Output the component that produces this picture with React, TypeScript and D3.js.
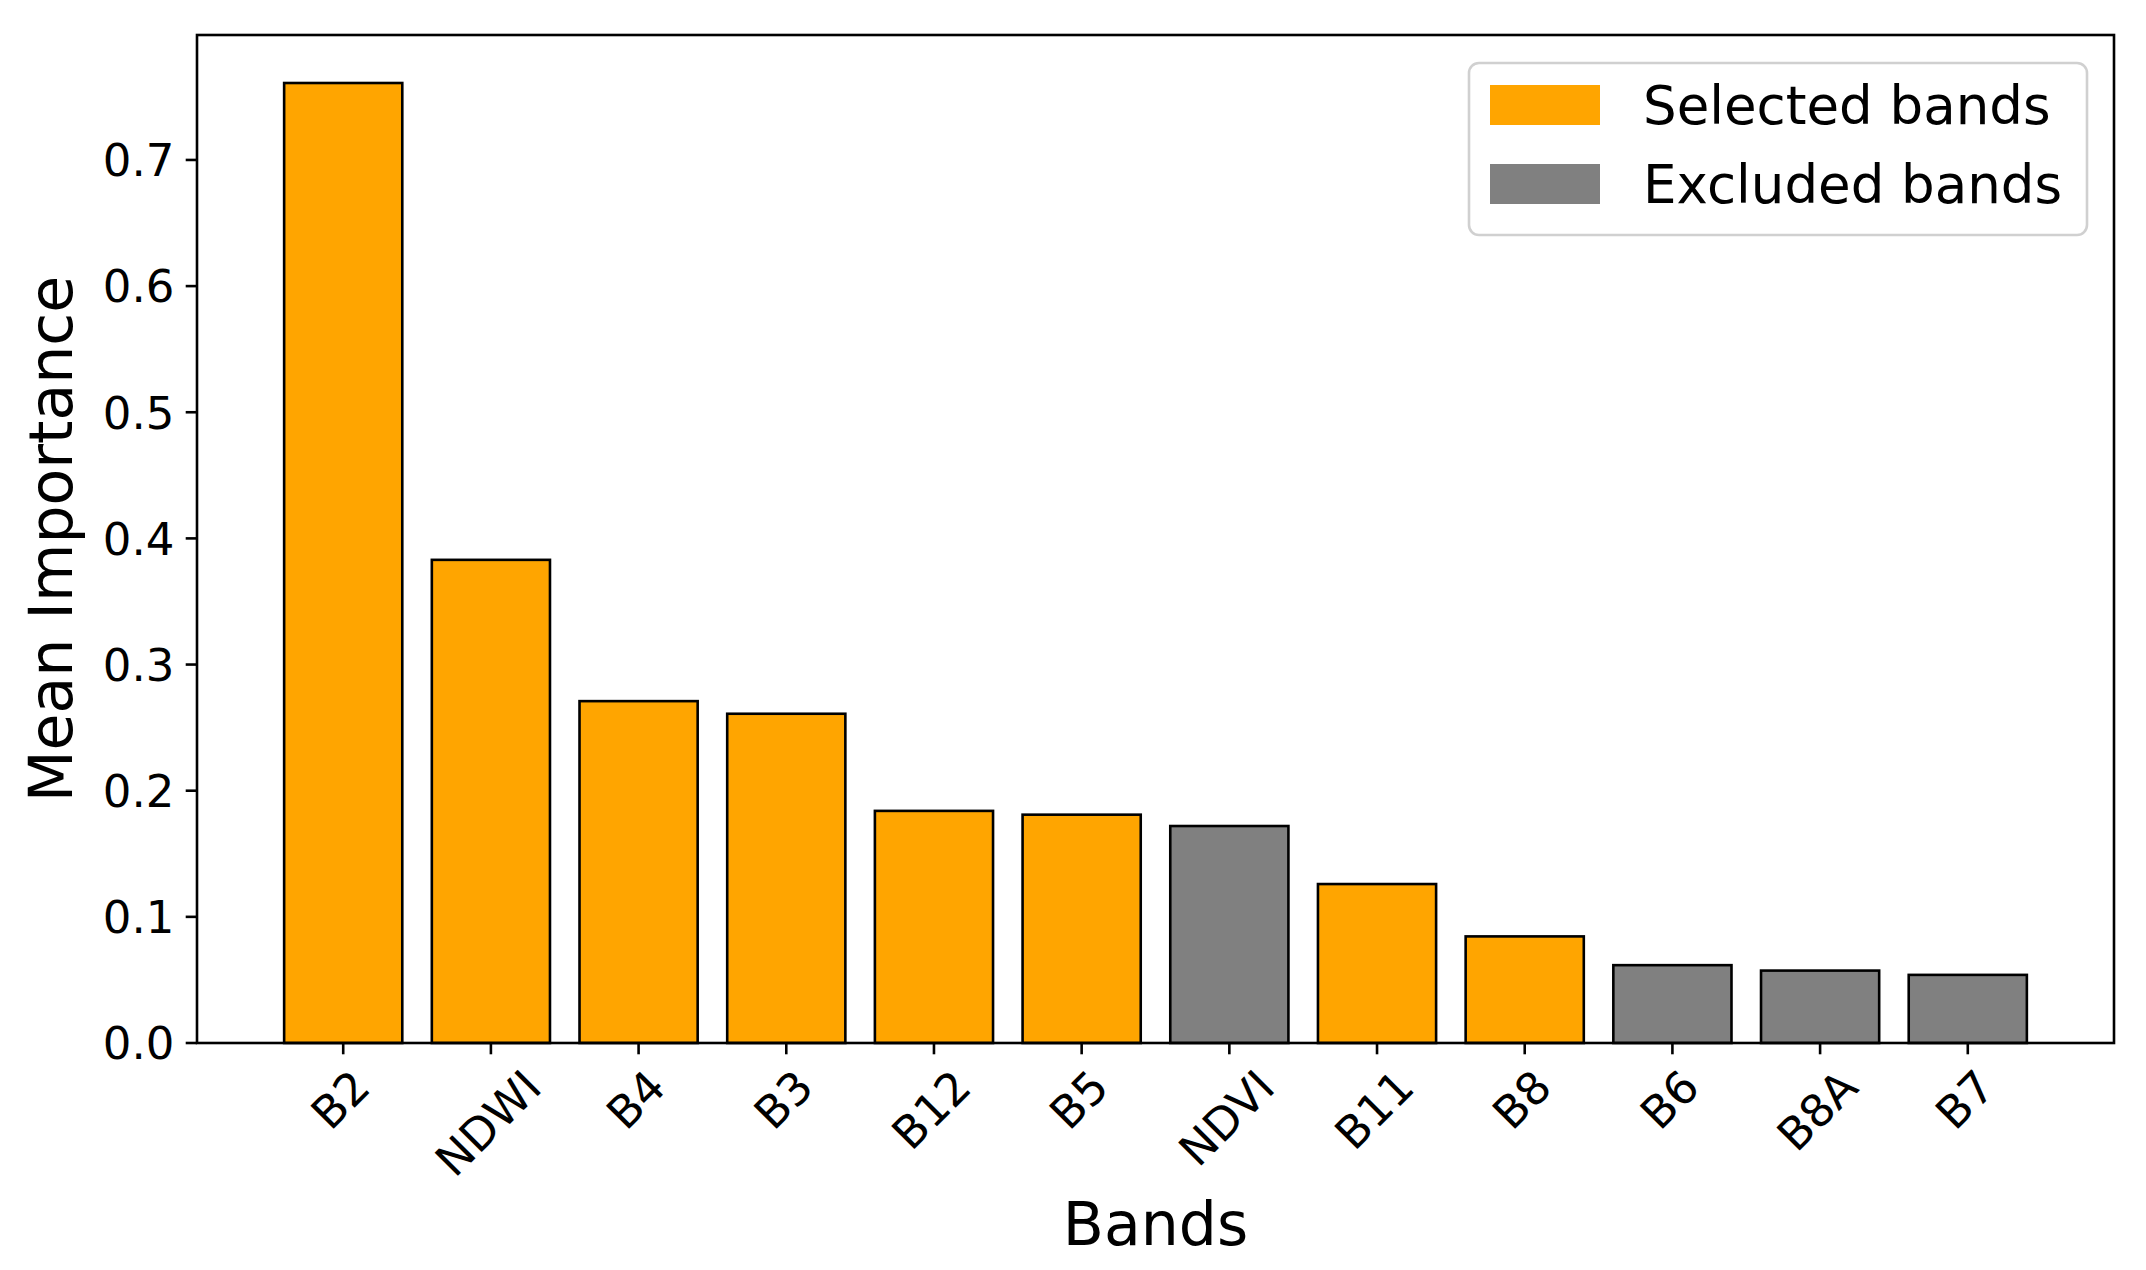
import React, { useEffect, useRef } from "react";
import * as d3 from "d3";

const bands = ["B2", "NDWI", "B4", "B3", "B12", "B5", "NDVI", "B11", "B8", "B6", "B8A", "B7"];
const importance = [0.761, 0.383, 0.271, 0.261, 0.184, 0.181, 0.172, 0.126, 0.0845, 0.0617, 0.0574, 0.054];
const selected = [true, true, true, true, true, true, false, true, true, false, false, false];
const yTicks = [0, 0.1, 0.2, 0.3, 0.4, 0.5, 0.6, 0.7];
const legendItems = ["Selected bands", "Excluded bands"];
const legendColors = ["#FFA500", "#808080"];

const W = 2146;
const H = 1270;
const FONT = "DejaVu Sans, sans-serif";

export default function App() {
  const ref = useRef<SVGSVGElement | null>(null);

  useEffect(() => {
    const svg = d3.select(ref.current);
    svg.selectAll("*").remove();

    const left = 197, right = 2114, top = 35, bottom = 1043;
    const n = bands.length;
    const x = d3.scaleLinear().domain([-0.4 - 0.05 * (n - 0.2), n - 0.6 + 0.05 * (n - 0.2)]).range([left, right]);
    const yMax = (d3.max(importance) as number) * 1.05;
    const y = d3.scaleLinear().domain([0, yMax]).range([bottom, top]);
    const bw = x(0.8) - x(0);

    svg.append("rect").attr("x", 0).attr("y", 0).attr("width", W).attr("height", H).attr("fill", "white");

    // bars
    svg.append("g").selectAll("rect").data(importance).join("rect")
      .attr("x", (_d, i) => x(i) - bw / 2)
      .attr("y", (d) => y(d))
      .attr("width", bw)
      .attr("height", (d) => y(0) - y(d))
      .attr("fill", (_d, i) => (selected[i] ? legendColors[0] : legendColors[1]))
      .attr("stroke", "black")
      .attr("stroke-width", 2.6);

    // spines
    svg.append("rect").attr("x", left).attr("y", top).attr("width", right - left).attr("height", bottom - top)
      .attr("fill", "none").attr("stroke", "black").attr("stroke-width", 2.6);

    const tickLen = 11.3;
    const pad = 11.3;
    const fs = 45;
    // y ticks
    const yg = svg.append("g");
    yTicks.forEach((t) => {
      yg.append("line").attr("x1", left - tickLen).attr("x2", left).attr("y1", y(t)).attr("y2", y(t))
        .attr("stroke", "black").attr("stroke-width", 2.6);
      yg.append("text").attr("x", left - tickLen - pad).attr("y", y(t) + 0.364 * fs)
        .attr("text-anchor", "end").attr("font-family", FONT).attr("font-size", fs).attr("fill", "black")
        .text(d3.format(".1f")(t));
    });

    // x ticks
    const xg = svg.append("g");
    bands.forEach((b, i) => {
      xg.append("line").attr("x1", x(i)).attr("x2", x(i)).attr("y1", bottom).attr("y2", bottom + tickLen)
        .attr("stroke", "black").attr("stroke-width", 2.6);
      const g = xg.append("g");
      const t = g.append("text").attr("x", 0).attr("y", 0.262 * fs).attr("text-anchor", "middle")
        .attr("font-family", FONT).attr("font-size", fs).attr("fill", "black").text(b);
      const w = (t.node() as SVGTextElement).getComputedTextLength();
      const h = fs;
      const half = (w + h) / (2 * Math.SQRT2);
      const cy = bottom + tickLen + pad + half;
      g.attr("transform", `translate(${x(i)},${cy}) rotate(-45)`);
    });

    // axis labels
    svg.append("text").attr("transform", `translate(72,${(top + bottom) / 2}) rotate(-90)`)
      .attr("text-anchor", "middle").attr("font-family", FONT).attr("font-size", 60).attr("fill", "black")
      .text("Mean Importance");
    svg.append("text").attr("x", (left + right) / 2).attr("y", 1245)
      .attr("text-anchor", "middle").attr("font-family", FONT).attr("font-size", 60).attr("fill", "black")
      .text("Bands");

    // legend
    const lg = svg.append("g");
    lg.append("rect").attr("x", 1469).attr("y", 63).attr("width", 618).attr("height", 172)
      .attr("rx", 10).attr("ry", 10).attr("fill", "white").attr("fill-opacity", 0.8)
      .attr("stroke", "#d0d0d0").attr("stroke-width", 2.6);
    const rows = [124, 203];
    legendItems.forEach((name, i) => {
      lg.append("rect").attr("x", 1490).attr("y", rows[i] - 39).attr("width", 110).attr("height", 40)
        .attr("fill", legendColors[i]);
      lg.append("text").attr("x", 1643).attr("y", rows[i]).attr("font-family", FONT).attr("font-size", 53)
        .attr("fill", "black").text(name);
    });
  }, []);

  return (
    <svg ref={ref} width={W} height={H} style={{ position: "absolute", left: 0, top: 0, display: "block" }} />
  );
}
